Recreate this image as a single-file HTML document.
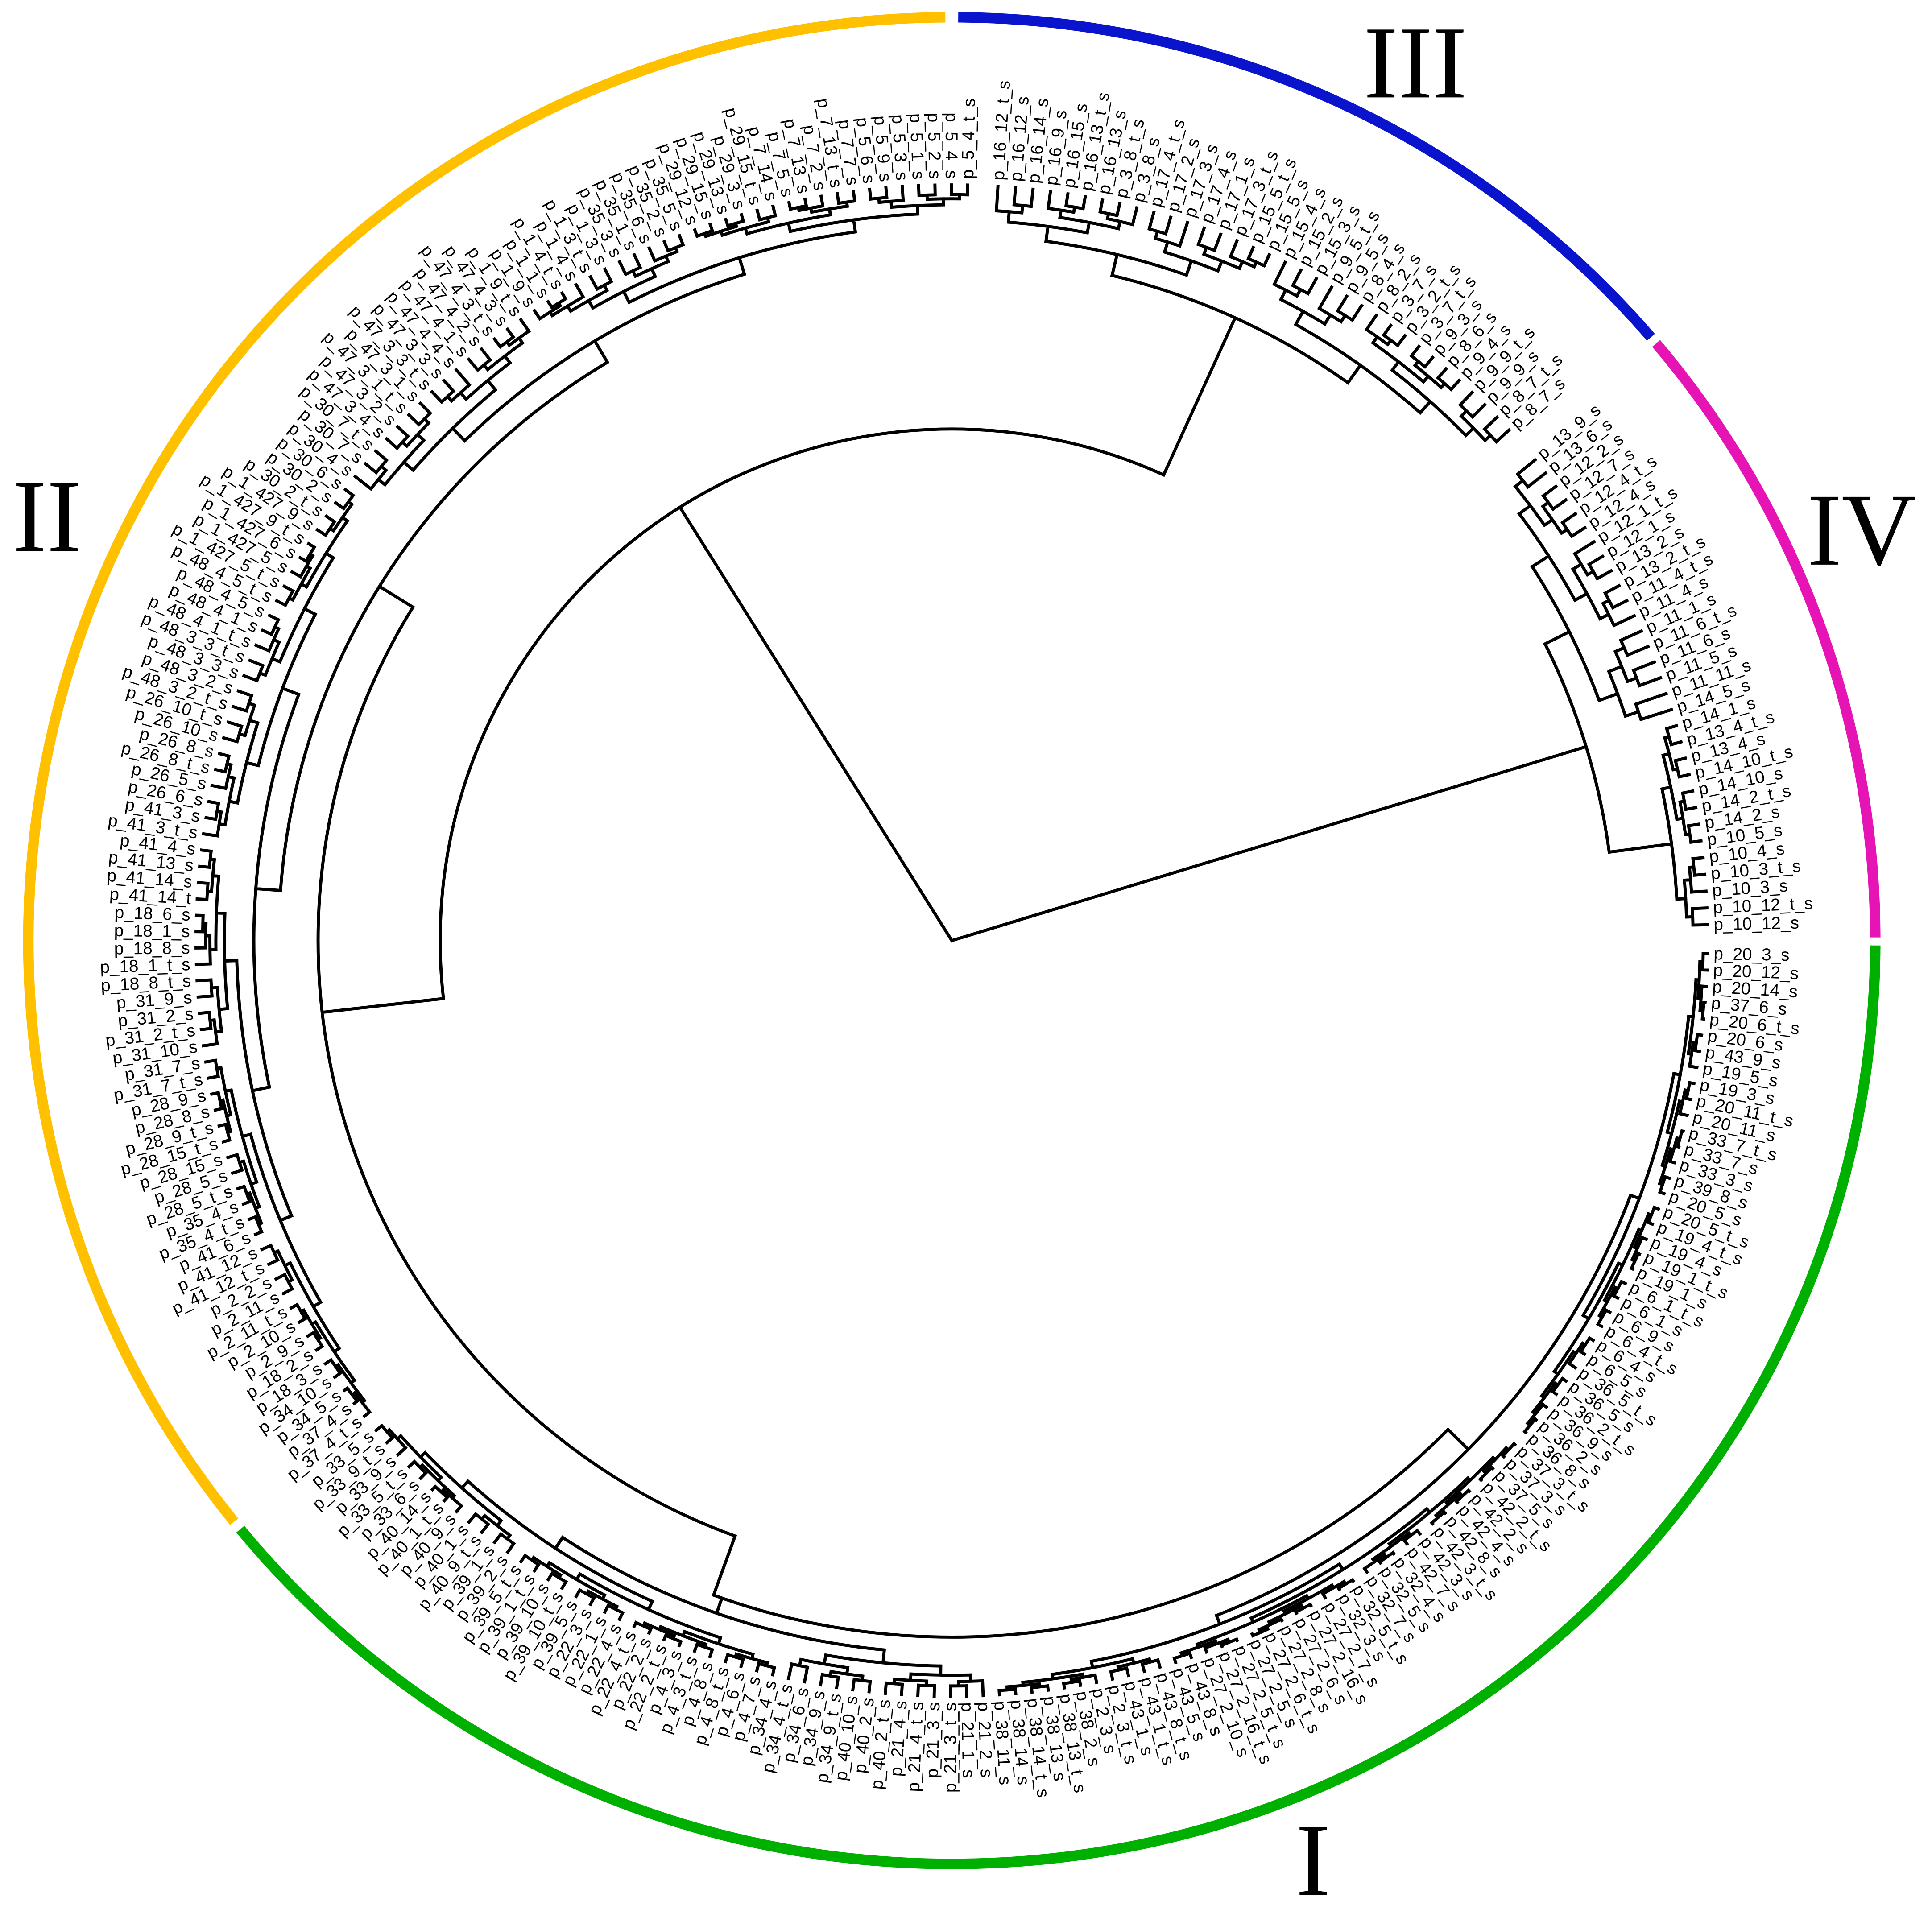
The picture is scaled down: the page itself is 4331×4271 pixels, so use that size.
<!DOCTYPE html>
<html><head><meta charset="utf-8"><style>
html,body{margin:0;padding:0;background:#fff;}
svg{display:block;}
text.l{font-family:"Liberation Sans",sans-serif;font-size:14px;fill:#000;}
text.n{font-family:"Liberation Serif",serif;font-size:84px;fill:#000;}
</style></head><body>
<svg id="s" width="4331" height="4271" viewBox="0 0 1567 1545.3" xmlns="http://www.w3.org/2000/svg">
<rect width="1567" height="1545.3" fill="#fff"/>
<g id="ring" fill="none" stroke-width="8.5"></g>
<g id="tree" fill="none" stroke="#000" stroke-width="2.5" stroke-linecap="square"></g>
<g id="labels">
<text class="l">p_16_12_t_s</text><text class="l">p_16_12_s</text><text class="l">p_16_14_s</text><text class="l">p_16_9_s</text><text class="l">p_16_15_s</text><text class="l">p_16_13_t_s</text><text class="l">p_16_13_s</text><text class="l">p_3_8_t_s</text><text class="l">p_3_8_s</text><text class="l">p_17_4_t_s</text><text class="l">p_17_2_s</text><text class="l">p_17_3_s</text><text class="l">p_17_4_s</text><text class="l">p_17_1_s</text><text class="l">p_17_3_t_s</text><text class="l">p_15_5_t_s</text><text class="l">p_15_5_s</text><text class="l">p_15_4_s</text><text class="l">p_15_2_s</text><text class="l">p_15_3_s</text><text class="l">p_9_5_t_s</text><text class="l">p_9_5_s</text><text class="l">p_8_4_s</text><text class="l">p_8_2_s</text><text class="l">p_3_7_s</text><text class="l">p_3_2_t_s</text><text class="l">p_3_7_t_s</text><text class="l">p_9_3_s</text><text class="l">p_8_6_s</text><text class="l">p_9_4_s</text><text class="l">p_9_9_t_s</text><text class="l">p_9_9_s</text><text class="l">p_8_7_t_s</text><text class="l">p_8_7_s</text>
<text class="l">p_13_9_s</text><text class="l">p_13_6_s</text><text class="l">p_12_2_s</text><text class="l">p_12_7_s</text><text class="l">p_12_4_t_s</text><text class="l">p_12_4_s</text><text class="l">p_12_1_t_s</text><text class="l">p_12_1_s</text><text class="l">p_13_2_s</text><text class="l">p_13_2_t_s</text><text class="l">p_11_4_t_s</text><text class="l">p_11_4_s</text><text class="l">p_11_1_s</text><text class="l">p_11_6_t_s</text><text class="l">p_11_6_s</text><text class="l">p_11_5_s</text><text class="l">p_11_11_s</text><text class="l">p_14_5_s</text><text class="l">p_14_1_s</text><text class="l">p_13_4_t_s</text><text class="l">p_13_4_s</text><text class="l">p_14_10_t_s</text><text class="l">p_14_10_s</text><text class="l">p_14_2_t_s</text><text class="l">p_14_2_s</text><text class="l">p_10_5_s</text><text class="l">p_10_4_s</text><text class="l">p_10_3_t_s</text><text class="l">p_10_3_s</text><text class="l">p_10_12_t_s</text><text class="l">p_10_12_s</text>
<text class="l">p_20_3_s</text><text class="l">p_20_12_s</text><text class="l">p_20_14_s</text><text class="l">p_37_6_s</text><text class="l">p_20_6_t_s</text><text class="l">p_20_6_s</text><text class="l">p_43_9_s</text><text class="l">p_19_5_s</text><text class="l">p_19_3_s</text><text class="l">p_20_11_t_s</text><text class="l">p_20_11_s</text><text class="l">p_33_7_t_s</text><text class="l">p_33_7_s</text><text class="l">p_33_3_s</text><text class="l">p_39_8_s</text><text class="l">p_20_5_s</text><text class="l">p_20_5_t_s</text><text class="l">p_19_4_t_s</text><text class="l">p_19_4_s</text><text class="l">p_19_1_t_s</text><text class="l">p_19_1_s</text><text class="l">p_6_1_t_s</text><text class="l">p_6_1_s</text><text class="l">p_6_9_s</text><text class="l">p_6_4_t_s</text><text class="l">p_6_4_s</text><text class="l">p_6_5_s</text><text class="l">p_36_5_t_s</text><text class="l">p_36_5_s</text><text class="l">p_36_2_t_s</text><text class="l">p_36_9_s</text><text class="l">p_36_2_s</text><text class="l">p_36_8_s</text><text class="l">p_37_3_t_s</text><text class="l">p_37_3_s</text><text class="l">p_37_5_s</text><text class="l">p_42_2_t_s</text><text class="l">p_42_2_s</text><text class="l">p_42_4_s</text><text class="l">p_42_8_s</text><text class="l">p_42_3_t_s</text><text class="l">p_42_3_s</text><text class="l">p_42_7_s</text><text class="l">p_32_4_s</text><text class="l">p_32_5_s</text><text class="l">p_32_7_s</text><text class="l">p_32_5_t_s</text><text class="l">p_32_3_s</text><text class="l">p_27_2_7_s</text><text class="l">p_27_2_16_s</text><text class="l">p_27_2_6_s</text><text class="l">p_27_2_8_s</text><text class="l">p_27_2_6_t_s</text><text class="l">p_27_2_5_s</text><text class="l">p_27_2_5_t_s</text><text class="l">p_27_2_16_t_s</text><text class="l">p_27_2_10_s</text><text class="l">p_43_8_s</text><text class="l">p_43_5_s</text><text class="l">p_43_8_t_s</text><text class="l">p_43_1_t_s</text><text class="l">p_43_1_s</text><text class="l">p_2_3_t_s</text><text class="l">p_2_3_s</text><text class="l">p_38_2_s</text><text class="l">p_38_13_t_s</text><text class="l">p_38_13_s</text><text class="l">p_38_14_t_s</text><text class="l">p_38_14_s</text><text class="l">p_38_11_s</text><text class="l">p_21_2_s</text><text class="l">p_21_1_s</text><text class="l">p_21_3_t_s</text><text class="l">p_21_3_s</text><text class="l">p_21_4_t_s</text><text class="l">p_21_4_s</text><text class="l">p_40_2_t_s</text><text class="l">p_40_2_s</text><text class="l">p_40_10_s</text><text class="l">p_34_9_t_s</text><text class="l">p_34_9_s</text><text class="l">p_34_6_s</text><text class="l">p_34_4_t_s</text><text class="l">p_34_4_s</text><text class="l">p_4_7_s</text><text class="l">p_4_6_s</text><text class="l">p_4_8_t_s</text><text class="l">p_4_8_s</text><text class="l">p_4_3_t_s</text><text class="l">p_4_3_s</text><text class="l">p_22_2_t_s</text><text class="l">p_22_2_s</text><text class="l">p_22_4_t_s</text><text class="l">p_22_4_s</text><text class="l">p_22_1_s</text><text class="l">p_22_3_s</text><text class="l">p_39_5_s</text><text class="l">p_39_10_t_s</text><text class="l">p_39_10_s</text><text class="l">p_39_1_t_s</text><text class="l">p_39_5_t_s</text><text class="l">p_39_2_s</text><text class="l">p_39_1_s</text><text class="l">p_40_9_t_s</text><text class="l">p_40_1_s</text><text class="l">p_40_9_s</text><text class="l">p_40_1_t_s</text><text class="l">p_40_14_s</text><text class="l">p_33_6_s</text><text class="l">p_33_5_t_s</text><text class="l">p_33_9_s</text><text class="l">p_33_9_t_s</text><text class="l">p_33_5_s</text>
<text class="l">p_37_4_t_s</text><text class="l">p_37_4_s</text><text class="l">p_34_5_s</text><text class="l">p_34_10_s</text><text class="l">p_18_3_s</text><text class="l">p_18_2_s</text><text class="l">p_2_9_s</text><text class="l">p_2_10_s</text><text class="l">p_2_11_t_s</text><text class="l">p_2_11_s</text><text class="l">p_2_2_s</text><text class="l">p_41_12_t_s</text><text class="l">p_41_12_s</text><text class="l">p_41_6_s</text><text class="l">p_35_4_t_s</text><text class="l">p_35_4_s</text><text class="l">p_28_5_t_s</text><text class="l">p_28_5_s</text><text class="l">p_28_15_s</text><text class="l">p_28_15_t_s</text><text class="l">p_28_9_t_s</text><text class="l">p_28_8_s</text><text class="l">p_28_9_s</text><text class="l">p_31_7_t_s</text><text class="l">p_31_7_s</text><text class="l">p_31_10_s</text><text class="l">p_31_2_t_s</text><text class="l">p_31_2_s</text><text class="l">p_31_9_s</text><text class="l">p_18_8_t_s</text><text class="l">p_18_1_t_s</text><text class="l">p_18_8_s</text><text class="l">p_18_1_s</text><text class="l">p_18_6_s</text><text class="l">p_41_14_t</text><text class="l">p_41_14_s</text><text class="l">p_41_13_s</text><text class="l">p_41_4_s</text><text class="l">p_41_3_t_s</text><text class="l">p_41_3_s</text><text class="l">p_26_6_s</text><text class="l">p_26_5_s</text><text class="l">p_26_8_t_s</text><text class="l">p_26_8_s</text><text class="l">p_26_10_s</text><text class="l">p_26_10_t_s</text><text class="l">p_48_3_2_t_s</text><text class="l">p_48_3_2_s</text><text class="l">p_48_3_3_s</text><text class="l">p_48_3_3_t_s</text><text class="l">p_48_4_1_t_s</text><text class="l">p_48_4_1_s</text><text class="l">p_48_4_5_s</text><text class="l">p_48_4_5_t_s</text><text class="l">p_1_427_5_t_s</text><text class="l">p_1_427_5_s</text><text class="l">p_1_427_6_s</text><text class="l">p_1_427_9_t_s</text><text class="l">p_1_427_9_s</text><text class="l">p_30_2_t_s</text><text class="l">p_30_2_s</text><text class="l">p_30_6_s</text><text class="l">p_30_4_s</text><text class="l">p_30_7_s</text><text class="l">p_30_7_t_s</text><text class="l">p_47_3_4_s</text><text class="l">p_47_3_2_s</text><text class="l">p_47_3_1_t_s</text><text class="l">p_47_3_1_s</text><text class="l">p_47_3_3_t_s</text><text class="l">p_47_3_3_s</text><text class="l">p_47_4_4_s</text><text class="l">p_47_4_1_s</text><text class="l">p_47_4_2_s</text><text class="l">p_47_4_3_t_s</text><text class="l">p_47_4_3_s</text><text class="l">p_1_9_t_s</text><text class="l">p_1_9_s</text><text class="l">p_1_1_s</text><text class="l">p_1_4_t_s</text><text class="l">p_1_4_s</text><text class="l">p_1_3_t_s</text><text class="l">p_1_3_s</text><text class="l">p_35_3_s</text><text class="l">p_35_1_s</text><text class="l">p_35_6_s</text><text class="l">p_35_2_s</text><text class="l">p_35_5_s</text><text class="l">p_29_12_s</text><text class="l">p_29_15_s</text><text class="l">p_29_13_s</text><text class="l">p_29_3_s</text><text class="l">p_29_15_t_s</text><text class="l">p_7_14_s</text><text class="l">p_7_5_s</text><text class="l">p_7_13_s</text><text class="l">p_7_2_s</text><text class="l">p_7_13_t_s</text><text class="l">p_7_7_s</text><text class="l">p_5_6_s</text><text class="l">p_5_9_s</text><text class="l">p_5_3_s</text><text class="l">p_5_1_s</text><text class="l">p_5_2_s</text><text class="l">p_5_4_s</text><text class="l">p_5_4_t_s</text>
</g>
<text class="n" x="1148" y="79" text-anchor="middle">III</text>
<text class="n" x="1510" y="458" text-anchor="middle">IV</text>
<text class="n" x="38" y="447" text-anchor="middle">II</text>
<text class="n" x="1065" y="1537" text-anchor="middle">I</text>
</svg>
<script>
(function(){
var CX=772,CY=763,RT=613,RL=618,NS="http://www.w3.org/2000/svg";
function P(r,a){var t=a*Math.PI/180;return [CX+r*Math.sin(t),CY-r*Math.cos(t)];}
function arcD(r,a1,a2){if(a2<a1){var t=a1;a1=a2;a2=t;}var p=P(r,a1),q=P(r,a2);var lg=(a2-a1)>180?1:0;
return "M"+p[0].toFixed(2)+","+p[1].toFixed(2)+"A"+r+","+r+" 0 "+lg+" 1 "+q[0].toFixed(2)+","+q[1].toFixed(2);}
function path(g,d,attrs){var e=document.createElementNS(NS,"path");e.setAttribute("d",d);if(attrs)for(var k in attrs)e.setAttribute(k,attrs[k]);g.appendChild(e);return e;}
var ring=document.getElementById("ring");
path(ring,arcD(749,231,359.6),{stroke:"#FFC000"});
path(ring,arcD(749,0.4,49.2),{stroke:"#0A14CC"});
path(ring,arcD(749,49.7,89.8),{stroke:"#E614B4"});
path(ring,arcD(749,90.3,230.4),{stroke:"#00B000"});
var labs=document.getElementById("labels").getElementsByTagName("text");
var N=labs.length,ang=[];
var segs=[[0,33,3.5,47.5],[34,64,50.5,88.8],[65,177,91,229.6],[178,N-1,231,361.2]];
segs.forEach(function(s){for(var i=s[0];i<=s[1];i++){ang[i]=s[2]+(s[3]-s[2])*(s[1]==s[0]?0:(i-s[0])/(s[1]-s[0]));}});
for(var i=0;i<N;i++){var a=ang[i],am=((a%360)+360)%360,p=P(RL,a),e=labs[i];
e.setAttribute("x",p[0].toFixed(2));e.setAttribute("y",p[1].toFixed(2));e.setAttribute("dominant-baseline","central");
if(am<180){e.setAttribute("transform","rotate("+(am-90).toFixed(2)+" "+p[0].toFixed(2)+" "+p[1].toFixed(2)+")");e.setAttribute("text-anchor","start");}
else{e.setAttribute("transform","rotate("+(am+90).toFixed(2)+" "+p[0].toFixed(2)+" "+p[1].toFixed(2)+")");e.setAttribute("text-anchor","end");}}
var tree=document.getElementById("tree"),d="";
function line(r1,r2,a){var p=P(r1,a),q=P(r2,a);d+="M"+p[0].toFixed(2)+","+p[1].toFixed(2)+"L"+q[0].toFixed(2)+","+q[1].toFixed(2);}
function arc(r,a1,a2){if(Math.abs(a2-a1)<0.01)return;d+=arcD(r,a1,a2);}
var seed=7;function rnd(){seed=(seed*9301+49297)%233280;return seed/233280;}
function layout(lo,hi,r){if(lo==hi)return ang[lo];
var n=hi-lo+1,f=0.3+rnd()*0.4,mid=lo+Math.max(0,Math.min(n-2,Math.floor((n-1)*f)));
var rc=r+Math.max(2.5,(RT-r)*0.3);
var a1=child(lo,mid,r,rc),a2=child(mid+1,hi,r,rc);arc(r,a1,a2);return (a1+a2)/2;}
function child(lo,hi,rp,rc){var a,rr;if(lo==hi){a=ang[lo];rr=RT;}else{a=layout(lo,hi,rc);rr=rc;}line(rp,rr,a);return a;}
var aIII=layout(0,33,555);
var aIVa=layout(34,51,560);
var aIVb=layout(52,64,589);
line(538,560,aIVa);line(538,589,aIVb);
var aB=73;arc(538,Math.min(aIVa,aB),Math.max(aIVb,aB));
var aGR=layout(65,134,588);
var aGL=layout(135,177,578);
line(565,588,aGR);line(565,578,aGL);
var aG=200;arc(565,aGR,Math.max(aGL,aG));
var aII=layout(178,N-1,546);
line(514,565,aG);line(514,546,aII);arc(514,aG,aII);
var aX=263.5;
line(415,514,aX);line(415,555,aIII+360);arc(415,aX,aIII+360);
var aA=327.9;
line(0,415,aA);line(0,538,aB);
path(tree,d);
})();
</script>
</body></html>
